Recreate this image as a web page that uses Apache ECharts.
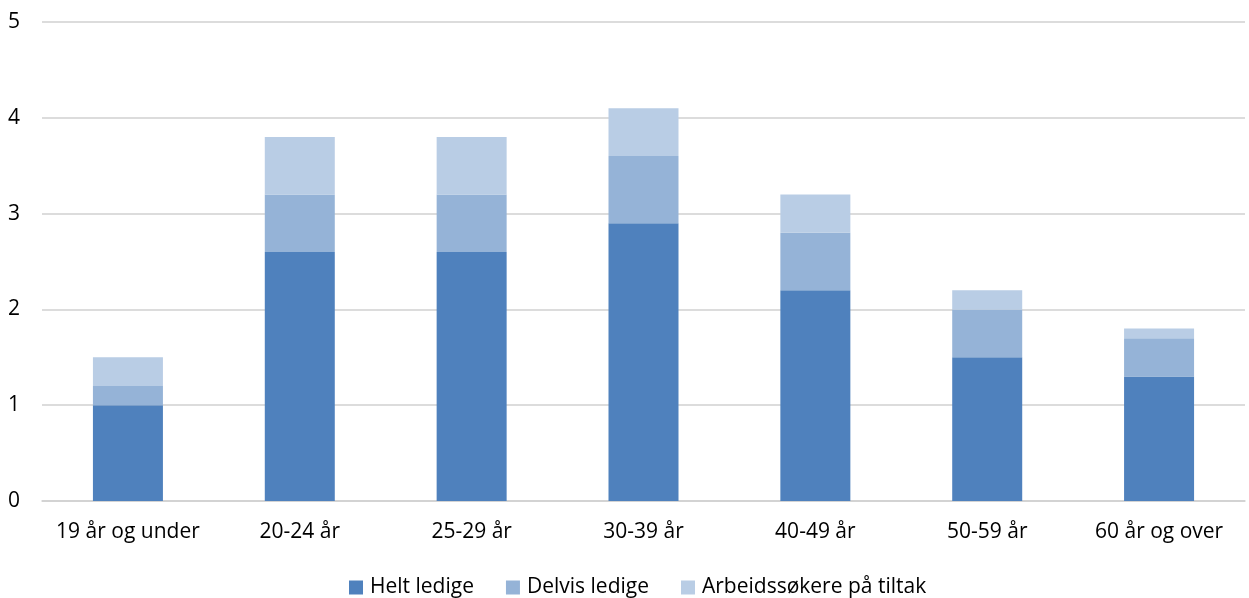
<!DOCTYPE html>
<html><head><meta charset="utf-8">
<script src="https://cdn.jsdelivr.net/npm/echarts@6/dist/echarts.min.js"></script>
<style>html,body{margin:0;padding:0;background:#fff}#c{width:1249px;height:598px}</style>
</head><body><div id="c"></div>
<script>
const categories = ["19 år og under","20-24 år","25-29 år","30-39 år","40-49 år","50-59 år","60 år og over"];
const heltLedige = [1.0, 2.6, 2.6, 2.9, 2.2, 1.5, 1.3];
const delvisLedige = [0.2, 0.6, 0.6, 0.7, 0.6, 0.5, 0.4];
const tiltak = [0.3, 0.6, 0.6, 0.5, 0.4, 0.2, 0.1];
const yTicks = [0, 1, 2, 3, 4, 5];

const font = "'Open Sans', 'Liberation Sans', sans-serif";
const chart = echarts.init(document.getElementById('c'));
const mk = (name, data, color) => ({
  name, type: 'bar', stack: 'a', data, barWidth: 70,
  itemStyle: {color}, emphasis: {disabled: true}
});
chart.setOption({
  animation: false,
  textStyle: {fontFamily: font},
  grid: {left: 42, right: 4, top: 22, bottom: 97, containLabel: false},
  legend: {
    bottom: -5, left: 344, itemWidth: 14, itemHeight: 14, itemGap: 32,
    icon: 'rect',
    textStyle: {fontSize: 21, color: '#000', fontFamily: font, padding: [0, 0, 0, 2]},
    data: ['Helt ledige', 'Delvis ledige', 'Arbeidssøkere på tiltak']
  },
  xAxis: {
    type: 'category', data: categories,
    axisLine: {lineStyle: {color: '#d0d0d0', width: 1.5}}, axisTick: {show: false},
    axisLabel: {fontSize: 21, color: '#000', margin: 21, interval: 0}
  },
  yAxis: {
    type: 'value', min: yTicks[0], max: yTicks[yTicks.length - 1], interval: 1,
    axisLine: {show: false}, axisTick: {show: false},
    axisLabel: {fontSize: 21, color: '#000', margin: 22},
    splitLine: {lineStyle: {color: '#d0d0d0', width: 1.5}}
  },
  series: [
    mk('Helt ledige', heltLedige, '#4F81BD'),
    mk('Delvis ledige', delvisLedige, '#95B3D7'),
    mk('Arbeidssøkere på tiltak', tiltak, '#B9CDE5')
  ]
});
</script></body></html>
